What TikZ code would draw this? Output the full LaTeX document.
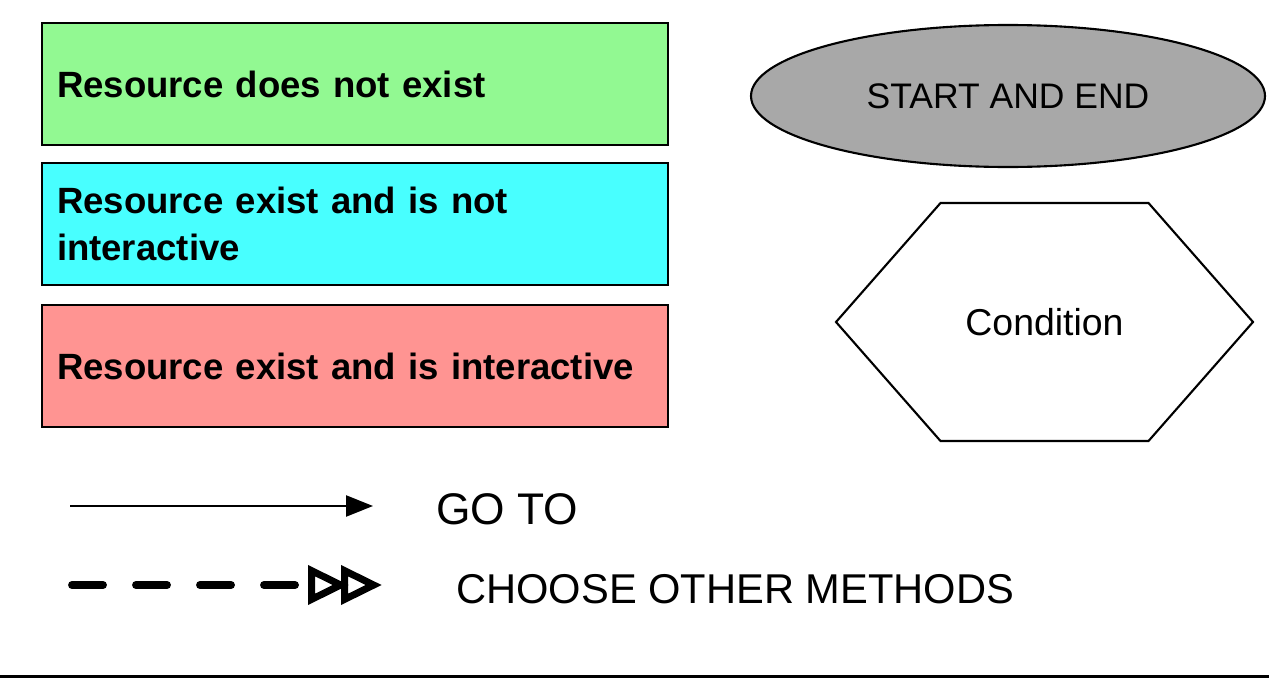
\documentclass[tikz,border=0pt]{standalone}
\usepackage{fontspec}
\setmainfont{Liberation Sans}
\usetikzlibrary{shapes.geometric,arrows.meta}
\definecolor{absentgreen}{RGB}{146,249,146}
\definecolor{staticcyan}{RGB}{72,255,255}
\definecolor{activered}{RGB}{255,148,146}
\definecolor{endgray}{RGB}{168,168,168}
\begin{document}
\begin{tikzpicture}[
        statebox/.style={draw, line width=1.2pt, text width=11.92cm, minimum height=2.44cm,
            inner sep=0.3cm, align=left, font=\fontsize{20.8}{26.5}\selectfont\bfseries},
        legendtext/.style={anchor=west, inner sep=0pt}
    ]
        \useasboundingbox (0,0) rectangle (25.38,-13.74);

        % State boxes
        \node[statebox, fill=absentgreen] (absent) at (7.1,-1.68) {Resource does not exist};
        \node[statebox, fill=staticcyan] (static) at (7.1,-4.48) {Resource exist and is not\\interactive};
        \node[statebox, fill=activered] (active) at (7.1,-7.32) {Resource exist and is interactive};

        % Start and end
        \node[ellipse, draw, line width=1.2pt, fill=endgray, minimum width=10.28cm, minimum height=2.84cm,
            inner sep=0pt, font=\fontsize{20.2}{24}\selectfont] (startend) at (20.16,-1.92) {START AND END};

        % Condition
        \node[font=\fontsize{21.3}{25}\selectfont] (cond) at (20.89,-6.44) {Condition};
        \draw[line width=1.2pt, line join=miter, shift={(cond.center)}]
            (-4.17,0) -- (-2.08,2.38) -- (2.08,2.38) -- (4.17,0) -- (2.08,-2.38) -- (-2.08,-2.38) -- cycle;

        % Go to
        \coordinate (gofrom) at (1.4,-10.12);
        \coordinate (goto) at (7.46,-10.12);
        \draw[line width=1.4pt, -{Triangle[length=0.54cm, width=0.42cm]}] (gofrom) -- (goto);
        \node[legendtext, font=\fontsize{25.2}{29}\selectfont] (golabel) at (8.72,-10.18) {GO TO};

        % Choose other methods (four dashes, then the double tip)
        \coordinate (otherfrom) at (1.44,-11.7);
        \coordinate (otherto) at (7.64,-11.7);
        \draw[line width=4.5pt, line cap=round,
            dash pattern=on 0.62cm off 0.66cm on 0.62cm off 0.66cm on 0.62cm off 0.66cm on 0.62cm off 3cm,
            -{Triangle[open, length=0.82cm, width=0.76cm, line width=4pt, sep=-0.16cm]
              Triangle[open, length=0.82cm, width=0.76cm, line width=4pt]}]
            (otherfrom) -- (otherto);
        \node[legendtext, font=\fontsize{23.7}{27}\selectfont] (otherlabel) at (9.12,-11.78) {CHOOSE OTHER METHODS};

        % Bottom rule
        \draw[line width=1.7pt] (0,-13.52) -- (25.38,-13.52);
    \end{tikzpicture}
\end{document}
